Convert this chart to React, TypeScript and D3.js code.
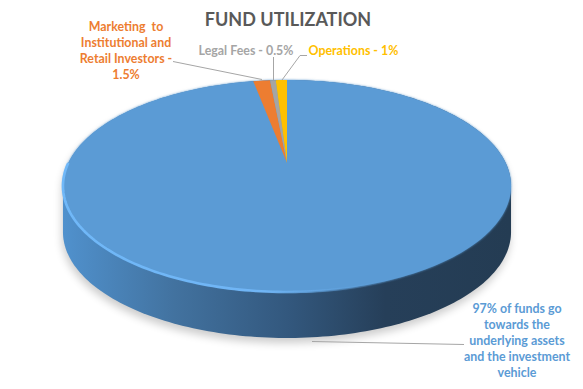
import React from "react";
import * as d3 from "d3";

const categories = [
  "97% of funds go towards the underlying assets and the investment vehicle",
  "Marketing to Institutional and Retail Investors - 1.5%",
  "Legal Fees - 0.5%",
  "Operations - 1%",
];
const values = [97, 1.5, 0.5, 1];
const colors = ["#5b9bd5", "#ed7d31", "#a5a5a5", "#ffc000"];
const titleText = "FUND UTILIZATION";
const marketingLines = ["Marketing  to", "Institutional and", "Retail Investors -", "1.5%"];
const mainLines = ["97% of funds go", "towards the", "underlying assets", "and the investment", "vehicle"];

const W = 583, H = 389;
const cx = 287, cy = 163, persp = -0.217, scaleV = 101, scaleU = 218.7, depth = 46;
const FONT = "Lato, 'Open Sans', sans-serif";
const LABEL_SIZE = 12.4;

// Perspective projection of the unit disc onto the tilted top face
const project = (angle: number, r = 1, dy = 0): [number, number] => {
  const u = r * Math.sin(angle), v = -r * Math.cos(angle);
  const w = 1 + persp * v;
  return [cx + (scaleU * u) / w, cy + (scaleV * v) / w + dy];
};
const line = d3.line<[number, number]>().x(d => d[0]).y(d => d[1]);
const sample = (a0: number, a1: number, dy = 0) => {
  const n = Math.max(2, Math.ceil(Math.abs(a1 - a0) / 0.02));
  return d3.range(n + 1).map(i => project(a0 + ((a1 - a0) * i) / n, 1, dy));
};
const pie = d3.pie<number>().sort(null).startAngle(0).endAngle(2 * Math.PI);
const arcs = pie(values);

const slicePath = (a0: number, a1: number) => line([[cx, cy], ...sample(a0, a1)])! + "Z";
const circle = sample(0, 2 * Math.PI);
const bottomCircle = sample(0, 2 * Math.PI, depth);
const hull = d3.polygonHull([...circle, ...bottomCircle])!;
const hullPath = line(hull)! + "Z";
const rimPath = line(sample(Math.PI * 0.45, Math.PI * 1.5))!;

const Lines = ({ lines, x, y, color, lh = 16 }: { lines: string[]; x: number; y: number; color: string; lh?: number }) => (
  <text textAnchor="middle" fontFamily={FONT} fontWeight={700} fontSize={LABEL_SIZE} fill={color} style={{ whiteSpace: "pre" }}>
    {lines.map((t, i) => (
      <tspan key={i} x={x} y={y + i * lh}>{t}</tspan>
    ))}
  </text>
);

export default function App() {
  return (
    <svg width={W} height={H} viewBox={`0 0 ${W} ${H}`} style={{ position: "absolute", left: 0, top: 0, background: "#fff" }}>
      <defs>
        <linearGradient id="side" gradientUnits="userSpaceOnUse" x1={63} x2={511} y1={0} y2={0}>
          <stop offset="0" stopColor="#5091cd" />
          <stop offset="0.25" stopColor="#42729f" />
          <stop offset="0.5" stopColor="#33587e" />
          <stop offset="0.72" stopColor="#263f59" />
          <stop offset="1" stopColor="#243c53" />
        </linearGradient>
        <linearGradient id="rim" gradientUnits="userSpaceOnUse" x1={63} x2={400} y1={0} y2={0}>
          <stop offset="0" stopColor="#70b8f8" />
          <stop offset="0.6" stopColor="#70b5f5" />
          <stop offset="1" stopColor="#5b9bd5" stopOpacity={0} />
        </linearGradient>
        <filter id="shadow" x="-10%" y="-10%" width="120%" height="130%"><feGaussianBlur stdDeviation={4} /></filter>
        <filter id="soft" x="-5%" y="-5%" width="110%" height="110%"><feGaussianBlur stdDeviation={1} /></filter>
        <filter id="softer" x="-5%" y="-5%" width="110%" height="110%"><feGaussianBlur stdDeviation={0.7} /></filter>
      </defs>

      <path d={hullPath} fill="#000" opacity={0.2} filter="url(#shadow)" transform="translate(-1,5)" />
      <path d={hullPath} fill="url(#side)" />
      <path d={line(circle)! + "Z"} fill={colors[0]} filter="url(#soft)" />
      {arcs.map((a, i) => (
        <path key={categories[i]} d={slicePath(a.startAngle, a.endAngle)} fill={colors[i]} />
      ))}
      <path d={rimPath} fill="none" stroke="url(#rim)" strokeWidth={2.6} filter="url(#softer)" />

      <g fill="none" stroke="#a6a6a6" strokeWidth={1}>
        <path d="M173,61.5L262,79.5" />
        <path d="M273.5,57L273.5,80" />
        <path d="M307,55.5L300,55.5L282,80" />
        <path d="M312,341.5L464,344.5" />
      </g>

      <text x={288} y={26} textAnchor="middle" fontFamily={FONT} fontWeight={700} fontSize={18} fill="#595959">{titleText}</text>
      <Lines lines={marketingLines} x={126} y={31} color={colors[1]} />
      <text x={246} y={55} textAnchor="middle" fontFamily={FONT} fontWeight={700} fontSize={LABEL_SIZE} fill={colors[2]}>{categories[2]}</text>
      <text x={308.5} y={55} fontFamily={FONT} fontWeight={700} fontSize={LABEL_SIZE} fill={colors[3]}>{categories[3]}</text>
      <Lines lines={mainLines} x={517} y={313} color={colors[0]} />
    </svg>
  );
}
